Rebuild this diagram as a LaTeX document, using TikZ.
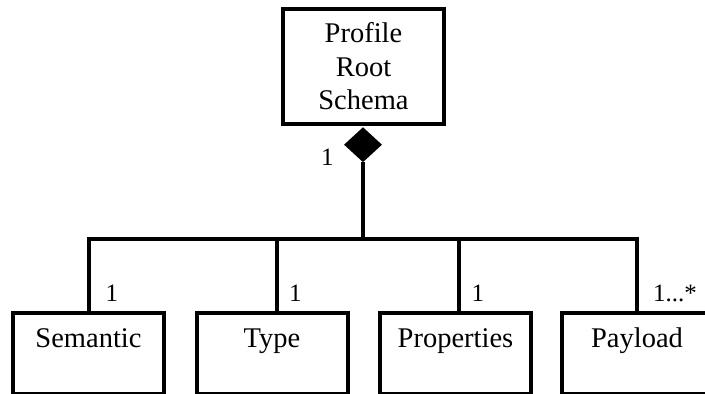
\documentclass[tikz,border=0pt]{standalone}
\usepackage{fontspec}
\setmainfont{Liberation Serif}
\usetikzlibrary{shapes.geometric}
\usetikzlibrary{positioning}

\tikzset{
    rootbox/.style={draw, line width=4pt, minimum width=161pt, minimum height=115pt,
        align=center, inner sep=0pt, font=\fontsize{28.5}{33.5}\selectfont},
    classbox/.style={draw, line width=4pt, minimum width=151pt, minimum height=81pt,
        anchor=north, inner xsep=0pt, inner ysep=14pt, text height=20pt, text depth=33pt,
        font=\fontsize{28.5}{33.5}\selectfont},
    compdiamond/.style={diamond, fill=black, minimum width=38pt, minimum height=35pt,
        inner sep=0pt, anchor=north},
    conn/.style={line width=4pt},
    mult/.style={inner sep=0pt, anchor=base west, font=\fontsize{25}{29}\selectfont}
}

\begin{document}
\begin{tikzpicture}[x=1pt, y=-1pt]
            \useasboundingbox (0,0) rectangle (705,394);

            % Root
            \node[rootbox] (root) at (363.5,66.5) {Profile\\Root\\Schema};
            \node[compdiamond] (dia) at (363,127) {};
            \node[mult, anchor=base east] (rootmult) at ([xshift=-10pt,yshift=-20.5pt]dia.west) {1};

            % Parts
            \node[classbox] (sem) at (88.5,311) {Semantic};
            \node[classbox] (type) at (272,311) {Type};
            \node[classbox] (props) at (455.5,311) {Properties};
            \node[classbox] (pay) at (637,311) {Payload};

            % Connectors
            \coordinate (bus) at (363,239);
            \draw[conn] (dia.south) -- (bus);
            \draw[conn] (sem.north) |- (bus) -| (pay.north);
            \draw[conn] ([xshift=5pt]type.north) -- ([xshift=5pt]type.north |- bus);
            \draw[conn] ([xshift=3.5pt]props.north) -- ([xshift=3.5pt]props.north |- bus);

            % Multiplicities
            \node[mult] (semmult) at ([xshift=17pt,yshift=10pt]sem.north) {1};
            \node[mult] (typemult) at ([xshift=17pt,yshift=10pt]type.north) {1};
            \node[mult] (propsmult) at ([xshift=16pt,yshift=10pt]props.north) {1};
            \node[mult] (paymult) at ([xshift=16pt,yshift=10pt]pay.north) {1...*};
        \end{tikzpicture}
\end{document}
